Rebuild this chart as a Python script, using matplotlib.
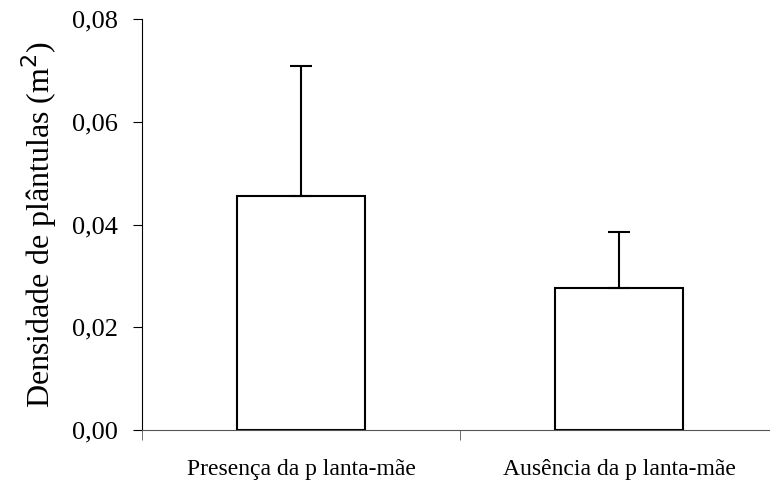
import matplotlib.pyplot as plt
import numpy as np

categorias = ['Presença da p lanta-mãe', 'Ausência da p lanta-mãe']
densidade = [0.0455, 0.0276]
erro = [0.0254, 0.0109]
yticks = [0.00, 0.02, 0.04, 0.06, 0.08]
ytick_labels = ['0,00', '0,02', '0,04', '0,06', '0,08']

plt.rcParams['font.family'] = ['Liberation Serif', 'DejaVu Serif']

fig = plt.figure(figsize=(7.7, 4.83), dpi=100)
ax = fig.add_axes([142 / 770, 1 - 430 / 483, 628 / 770, 411 / 483])

x = np.arange(len(categorias))
ax.bar(x, densidade, width=0.40, color='white', edgecolor='black', linewidth=1.5,
       yerr=[np.zeros(len(erro)), erro], capsize=8,
       error_kw={'elinewidth': 1.5, 'capthick': 1.5, 'ecolor': 'black'})

ax.set_xlim(-0.5, 1.475)
ax.set_ylim(0, 0.08)
ax.set_yticks(yticks)
ax.set_yticklabels(ytick_labels, fontsize=19)
ax.set_xticks(x)
ax.set_xticklabels(categorias, fontsize=17)
ax.tick_params(axis='x', which='major', length=0, pad=21)
ax.set_xticks([-0.5, 0.5], minor=True)
ax.tick_params(axis='x', which='minor', length=7, direction='out', color='#555555')
ax.tick_params(axis='y', length=6.5, direction='out', pad=11)

ax.spines['top'].set_visible(False)
ax.spines['right'].set_visible(False)
ax.spines['bottom'].set_color('#555555')
ax.set_ylabel('Densidade de plântulas (m$^{2}$)', fontsize=23, labelpad=9)

fig.savefig('out.png', dpi=100)
